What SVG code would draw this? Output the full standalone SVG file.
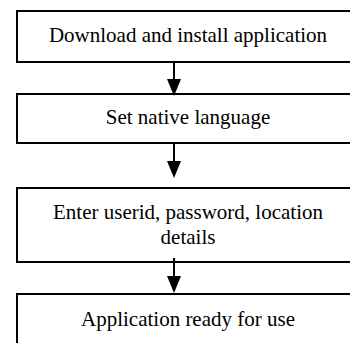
<svg xmlns="http://www.w3.org/2000/svg" width="350" height="343" viewBox="0 0 350 343">
  <style>
    .box { fill: #ffffff; stroke: #000000; stroke-width: 2; }
    .label { font-family: "Liberation Serif", "Times New Roman", serif; font-size: 21px; fill: #000000; text-anchor: middle; }
    .link { stroke: #000000; stroke-width: 2; fill: none; marker-end: url(#head); }
  </style>
  <defs>
    <marker id="head" markerUnits="userSpaceOnUse" viewBox="0 0 17 14" markerWidth="17" markerHeight="14" refX="7" refY="7" orient="auto">
      <path d="M0,0 L17,7 L0,14 Z" fill="#000000"/>
    </marker>
  </defs>

  <g id="step-download">
    <rect class="box" x="17" y="11" width="345" height="51"/>
    <text class="label" x="188" y="42">Download and install application</text>
  </g>

  <g id="step-language">
    <rect class="box" x="17" y="94" width="345" height="49"/>
    <text class="label" x="188" y="124">Set native language</text>
  </g>

  <g id="step-credentials">
    <rect class="box" x="17" y="188" width="345" height="74"/>
    <text class="label" x="188" y="218.5">Enter userid, password, location</text>
    <text class="label" x="188" y="243.5">details</text>
  </g>

  <g id="step-ready">
    <rect class="box" x="17" y="294" width="345" height="60"/>
    <text class="label" x="188" y="326">Application ready for use</text>
  </g>

  <g id="connectors">
    <line class="link" x1="174" y1="62" x2="174" y2="86"/>
    <line class="link" x1="174" y1="143" x2="174" y2="168"/>
    <line class="link" x1="174" y1="258" x2="174" y2="283"/>
  </g>
</svg>
